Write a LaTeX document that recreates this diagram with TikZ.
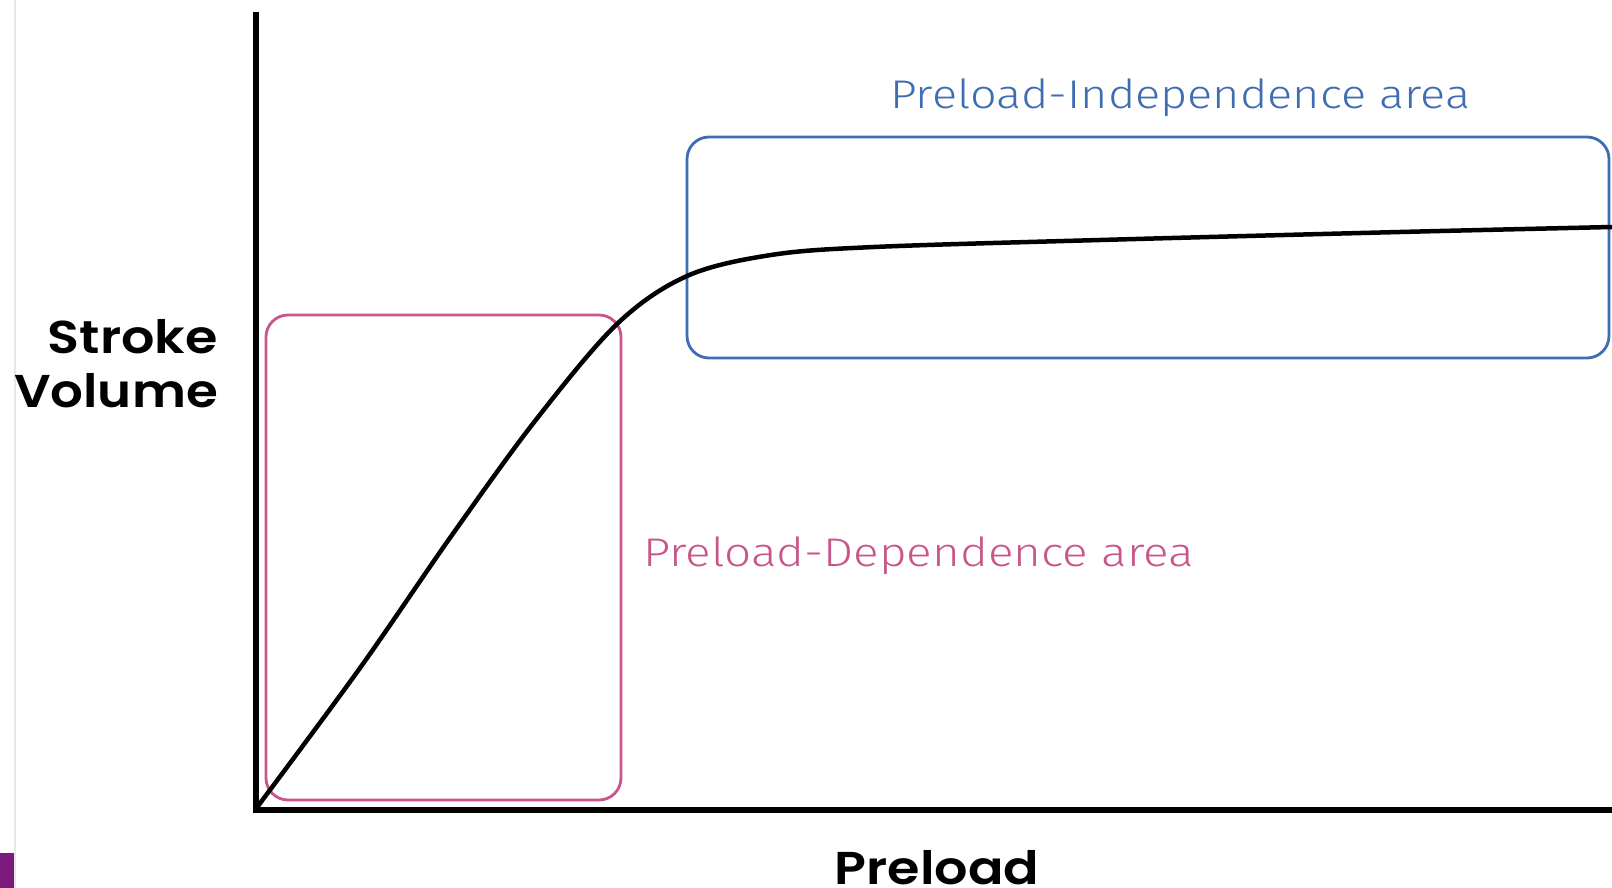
\documentclass[tikz,border=0pt]{standalone}
\usepackage{graphicx}
\usepackage{fontspec}
\setmainfont{Poppins}
\newfontfamily\axisfont{Poppins SemiBold}
\newfontfamily\labelfont{Fira Sans Light}
\definecolor{depink}{HTML}{C9568A}
\definecolor{indblue}{HTML}{3E6DB3}
\definecolor{slideedge}{HTML}{E4E8E8}
\definecolor{tabpurple}{HTML}{7A1A7C}
\newcommand{\widetext}[2]{\scalebox{#1}[1]{#2}}
\begin{document}
\begin{tikzpicture}[x=1pt,y=-1pt,
  axis/.style={line width=6pt,black},
  curveline/.style={line width=4.5pt,black},
  zonebox/.style={line width=2.8pt,rounded corners=22pt},
  axislabel/.style={font=\axisfont\fontsize{46}{54}\selectfont,text=black,inner sep=0pt},
  zonelabel/.style={font=\labelfont\fontsize{40}{44}\selectfont,inner sep=0pt}]
\useasboundingbox[fill=white] (0,0) rectangle (1612,888);
% slide edge and tab
\draw[slideedge,line width=2pt] (15,0) -- (15,888);
\fill[tabpurple] (0,853) rectangle (14,888);
% zone boxes
\draw[zonebox,depink] (266,315) rectangle (621,800);
\draw[zonebox,indblue] (687,137) rectangle (1609,358);
% axes
\coordinate (top) at (256,12);
\coordinate (origin) at (256,810);
\coordinate (right) at (1612,810);
\draw[axis] (top) -- (origin) -- (right);
% stroke volume curve
\draw[curveline] plot[smooth,tension=0.55] coordinates {
  (258,806) (360,668) (452,535) (535,421) (617,324) (687,276)
  (771,255) (874,247) (1100,240) (1400,232) (1612,227)};
% labels
\node[axislabel,anchor=east,align=right] (sv) at (218,364) {\widetext{1.14}{Stroke}\\\widetext{1.12}{Volume}};
\node[axislabel,anchor=center] (pl) at (937,868) {\widetext{1.14}{Preload}};
\node[zonelabel,text=depink,anchor=west] (dep) at (643,556) {\widetext{1.19}{Preload-Dependence area}};
\node[zonelabel,text=indblue,anchor=west] (ind) at (890,98) {\widetext{1.17}{Preload-Independence area}};
\end{tikzpicture}
\end{document}
